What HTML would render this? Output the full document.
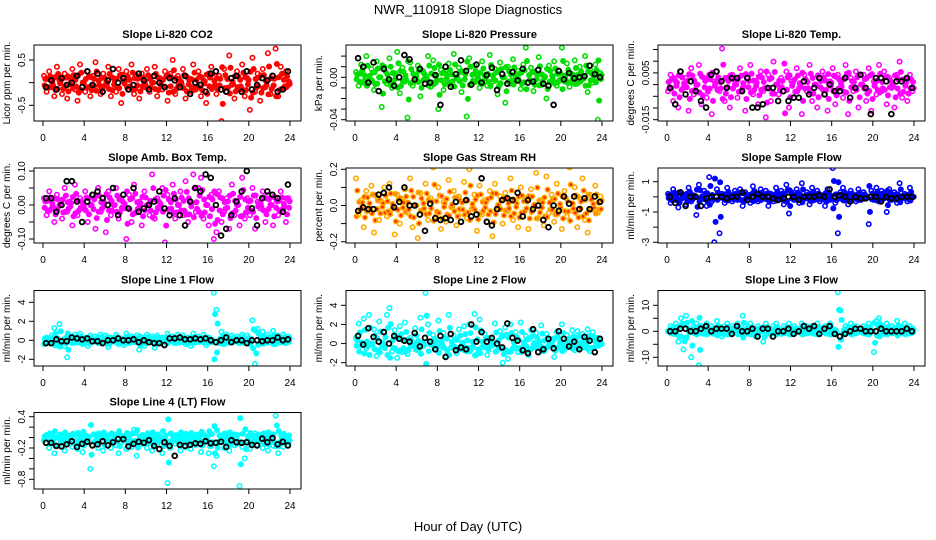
<!DOCTYPE html>
<html><head><meta charset="utf-8"><style>
html,body{margin:0;padding:0;background:#fff;}
svg{display:block;font-family:"Liberation Sans",sans-serif;}
</style></head><body>
<svg id="c" width="936" height="540" xmlns="http://www.w3.org/2000/svg">
<text x="468" y="14" text-anchor="middle" font-size="13">NWR_110918  Slope Diagnostics</text>
<text x="468" y="531" text-anchor="middle" font-size="13">Hour of Day (UTC)</text>
</svg>
<script>
const xTicks=[0,4,8,12,16,20,24];
const co2=[15,-20,25,-10,-30,35,5,-25,20,-35,10,30,-15,-40,40,0,-20,25,-30,15,45,-10,-25,20,-5,35,-30,10,-20,30,-45,5,25,-15,40,-25,15,-35,20,-10,30,-20,0,35,-30,10,-15,25,-40,20,50,-25,15,-5,30,-35,10,-20,40,-15,25,-30,5,-45,20,35,-10,-25,15,-85,30,-20,60,-5,-35,25,-15,40,-30,10,-60,55,-20,20,-40,30,-10,65,-25,15,75,-30,35,-15,25,-5];
const co2Blk=[-10,5,-15,10,-5,0,15,-10,25,-5,20,-20,5,30,0,10,-15,-5,20,5,-15,15,0,-10,10,5,-10,15,-25,0,-5,-20,20,25,-15,-20,10,15,-20,25,-15,-5,10,5,15,-20,-15,25];
const pres=[5,-8,12,-5,20,-3,8,-12,15,0,-28,10,-6,18,-10,4,24,-15,9,-4,-38,14,-8,2,11,-18,6,-2,20,-9,16,-5,-30,7,-12,3,13,-7,22,-1,9,-14,5,-37,18,-6,11,-3,-10,15,2,-8,21,-4,8,-16,14,0,-24,10,-6,17,-2,6,-11,12,28,-5,9,-13,4,19,-7,1,-20,11,-3,15,-8,6,28,-4,13,-9,3,16,-6,10,-2,20,-14,7,-5,12,-40,4];
const presBlk=[18,10,-5,14,-13,8,-2,-8,0,21,17,-2,8,-6,-5,2,-26,10,-9,3,16,6,-7,12,-5,2,9,-12,3,-6,5,-3,8,-5,-4,7,-6,-8,-26,6,-2,4,-1,0,1,11,3,0];
const temp=[-2,3,-5,1,-7,4,-1,2,-8,5,-3,0,6,-6,2,-4,3,-9,1,4,-2,11,-5,2,-7,3,0,-4,5,-1,-8,2,6,-3,1,-6,4,-2,-10,3,-5,7,0,-3,2,-16,4,-7,1,-4,5,-1,-9,3,-2,6,-5,0,-7,2,4,-3,-8,1,5,-6,3,-1,-4,6,-9,2,-2,4,-7,0,3,-5,5,-8,1,-3,6,-2,4,-6,2,-1,-7,3,7,-4,1,-5,3,-2];
const tempBlk=[-1,-6,4,-3,1,-2,-5,-7,3,4,1,-1,2,2,-2,2,-7,-7,-6,-1,-1,-5,-2,-5,-4,-4,1,-3,-1,2,-3,0,-2,-2,2,-4,-1,3,-1,-9,2,2,1,-9,1,1,2,-1];
const amb=[2,-3,4,-1,-5,3,0,-4,5,-2,1,-6,6,-3,2,-1,4,-5,0,3,-7,5,-2,1,-8,4,-3,0,5,-4,2,-1,-10,3,-5,6,-2,1,-6,4,0,-3,9,-4,2,-1,5,-11,3,-2,6,-4,0,4,-3,7,-5,1,9,-2,5,8,-4,0,-6,3,-10,-8,4,-5,-2,2,-7,6,-3,0,-6,8,-4,2,-3,5,-7,1,-1,4,-5,3,0,-6,2,-3,4,-1,-5,2];
const ambBlk=[2,2,-2,0,7,7,1,-5,1,3,4,2,0,5,-3,3,-1,5,-2,-1,0,1,4,-1,-3,2,-3,-6,1,5,4,9,8,0,-9,-7,-3,1,4,10,-1,-6,2,4,3,2,-2,6];
const rh=[15,-5,3,-12,8,-3,11,-15,5,-8,2,10,-6,12,-2,-16,6,-10,3,9,-4,15,-12,0,-18,7,-3,12,-8,4,21,-6,10,-13,2,-9,14,-1,8,-11,5,-4,13,-7,20,-2,6,-14,11,-5,3,-9,8,-17,12,-1,5,-10,7,-3,15,-8,2,-12,10,-6,4,-13,9,-1,18,-7,3,-11,16,-4,6,-9,12,-2,-13,8,-6,21,-3,10,-12,4,15,-8,-15,6,-2,11,-4,5];
const rhBlk=[-3,-1,-2,-2,6,7,10,-1,2,10,0,0,-5,-14,1,-7,-8,-7,-8,2,-9,3,-6,-5,15,-9,-11,-2,3,4,3,7,-6,3,-2,0,-8,-12,0,-3,5,1,5,-2,4,-2,5,2];
const samp=[2,-4,5,-2,-7,3,0,-5,6,-3,1,-12,8,-1,4,-6,13,-3,-30,5,-24,2,-4,6,-1,-3,4,-2,5,-6,3,0,-4,7,-2,-3,5,-1,4,-6,2,-3,6,-1,4,-5,8,-11,3,-2,5,-4,9,-1,3,-5,6,-2,4,-3,1,-6,5,-2,19,-4,-24,3,6,-2,-5,4,-1,-3,5,-2,3,-1,-18,4,-2,6,-3,4,-1,-10,5,-2,3,-4,9,-1,2,-3,6,0];
const sampBlk=[0,-4,3,-6,0,0,-6,-1,0,0,0,-1,0,0,3,-2,0,2,0,0,-1,-2,-1,0,0,-2,0,0,0,1,0,5,0,1,0,-3,0,-1,-1,0,0,-3,0,-1,-1,0,0,0];
const l1=[-4,3,-2,5,13,-5,17,0,-6,-18,4,-3,6,-2,7,-4,3,-6,5,-1,4,-3,6,-2,5,-7,3,-1,6,-4,2,-5,7,-3,4,-2,5,-10,3,-6,6,-1,4,-8,5,-2,3,-5,7,-1,4,-3,6,-2,5,-4,3,-6,7,-2,4,-1,6,-5,3,-2,50,32,-3,9,-4,6,-2,5,-1,4,-3,6,-2,5,-4,21,-25,12,-3,9,-2,6,-1,10,-4,5,-2,6,-3,4];
const l1Blk=[-3,-3,1,-1,-1,3,2,1,2,-1,-1,-3,0,0,2,0,0,1,-2,0,-2,-3,-3,-5,2,2,3,1,1,2,1,2,0,-2,0,3,-2,0,0,-3,0,0,-1,0,0,3,0,1];
const l2=[6,21,-2,26,-5,30,-1,15,-13,23,-3,12,30,37,-8,14,-15,18,-9,22,-11,6,-2,16,-7,27,-3,53,20,-1,9,-6,24,-3,11,-13,30,-4,8,-10,15,-2,18,-8,20,-5,31,-11,25,-4,10,-12,6,-2,21,-7,13,-20,17,-16,20,-5,12,-9,22,-3,8,-12,14,-1,11,-4,19,-8,10,-2,5,-14,12,-3,20,-6,9,-1,14,-7,13,-2,10,-4,15,-8,12,-3,6,-1];
const l2Blk=[8,-1,16,7,2,12,0,8,5,3,2,11,-3,6,2,-6,8,-14,10,-7,-4,-6,20,2,12,2,6,0,-4,21,6,3,-7,-10,15,-9,-6,5,-5,13,5,-3,2,-6,7,3,-9,5];
const l3=[0,2,-1,3,-4,5,-7,6,1,-10,2,3,-13,2,-1,3,0,2,-1,4,1,-2,2,3,-1,2,0,3,-1,6,2,-1,3,1,-2,2,0,-4,3,1,-1,2,3,0,-1,2,1,3,-1,2,0,1,3,-1,2,0,2,-1,3,1,0,2,-1,3,1,-1,15,8,-1,2,1,3,-1,2,0,1,2,-1,3,0,-8,4,5,2,-1,3,1,2,0,4,2,1,3,-1,2,1];
const l3Blk=[0,0,1,1,0,0,1,2,0,1,1,1,-1,2,0,0,1,-2,1,1,-2,0,0,1,-1,0,2,1,2,-1,1,2,-1,-2,-1,0,1,1,0,0,0,1,0,0,0,0,1,0];
const l4=[-5,5,-20,-10,-30,0,-15,-5,-25,-8,3,-18,-12,-22,-5,-28,-10,2,-60,-15,-8,-20,0,-25,-5,-12,-20,4,-15,-30,-8,-3,-22,-10,-18,15,-35,-5,-12,0,-20,-8,-25,-5,-15,-2,-30,-10,-87,-20,-5,-12,-3,-25,-10,-18,-6,-22,0,-14,-8,-28,-12,-4,-30,-16,-55,-35,-10,-2,-20,-8,-25,-5,-15,-12,-93,-18,-40,-6,-22,-10,8,-14,-4,-20,-12,-25,-2,-16,42,-30,-8,-18,-5,-10];
const l4Blk=[-10,-10,-16,-17,-13,-7,-18,-12,-8,-15,-13,-7,-15,-9,-3,-3,-17,-12,-8,-10,-5,-16,-22,-9,-16,-35,-14,-16,-14,-11,-12,-7,-11,-10,-8,-18,-5,-9,-10,-9,-14,-15,-2,-9,-1,-13,-8,-15];

const NS="http://www.w3.org/2000/svg";
const svg=document.getElementById('c');
function mk(tag,attrs,parent){const e=document.createElementNS(NS,tag);for(const k in attrs)e.setAttribute(k,attrs[k]);(parent||svg).appendChild(e);return e;}
const cols=[34,346,658], rows=[[45,121],[168,243],[290.5,366],[412.5,489]];
const panels=[
 {t:'Slope Li-820 CO2',yl:'Licor ppm per min.',c:0,r:0,d:co2,b:co2Blk,s:0.01,col:'#ff0000',ref:[0.5,60,-0.5,105.3],ticks:[-0.5,0,0.5],labs:['-0.5','','0.5']},
 {t:'Slope Li-820 Pressure',yl:'kPa per min.',c:1,r:0,d:pres,b:presBlk,s:0.001,col:'#00dd00',ref:[0,77.3,-0.04,119.7],ticks:[-0.04,-0.03,-0.02,-0.01,0,0.01,0.02],labs:['-0.04','','','','0.00','','']},
 {t:'Slope Li-820 Temp.',yl:'degrees C per min.',c:2,r:0,d:temp,b:tempBlk,s:0.0014,col:'#ff00ff',ref:[0.005,72.9,-0.015,119.7],ticks:[-0.015,-0.01,-0.005,0,0.005,0.01,0.015],labs:['-0.015','','','','0.005','','']},
 {t:'Slope Amb. Box Temp.',yl:'degrees C per min.',c:0,r:1,d:amb,b:ambBlk,s:0.01,col:'#ff00ff',ref:[0.1,171,-0.1,239],ticks:[-0.1,-0.05,0,0.05,0.1],labs:['-0.10','','0.00','','0.10']},
 {t:'Slope Gas Stream RH',yl:'percent per min.',c:1,r:1,d:rh,b:rhBlk,s:0.01,col:'#ffaa00',ref:[0.2,169.3,-0.2,241.7],ticks:[-0.2,-0.1,0,0.1,0.2],labs:['-0.2','','0.0','','0.2'],inner:'#ff2200'},
 {t:'Slope Sample Flow',yl:'ml/min per min.',c:2,r:1,d:samp,b:sampBlk,s:0.1,col:'#0000ff',ref:[1,181.7,-3,242.3],ticks:[-3,-2,-1,0,1],labs:['-3','','-1','','1']},
 {t:'Slope Line 1 Flow',yl:'ml/min per min.',c:0,r:2,d:l1,b:l1Blk,s:0.1,col:'#00ffff',ref:[4,302.3,-2,359.3],ticks:[-2,0,2,4],labs:['-2','0','2','4']},
 {t:'Slope Line 2 Flow',yl:'ml/min per min.',c:1,r:2,d:l2,b:l2Blk,s:0.1,col:'#00ffff',ref:[4,305.3,-2,362.7],ticks:[-2,0,2,4],labs:['-2','0','2','4']},
 {t:'Slope Line 3 Flow',yl:'ml/min per min.',c:2,r:2,d:l3,b:l3Blk,s:1,col:'#00ffff',ref:[10,305.3,-10,357.3],ticks:[-10,-5,0,5,10],labs:['-10','','0','','10']},
 {t:'Slope Line 4 (LT) Flow',yl:'ml/min per min.',c:0,r:3,d:l4,b:l4Blk,s:0.01,col:'#00ffff',ref:[0.4,416.7,-0.8,479.3],ticks:[-0.8,-0.6,-0.4,-0.2,0,0.2,0.4],labs:['-0.8','','','-0.2','','','0.4']}
];
panels.forEach((p,pi)=>{
  const x0=cols[p.c], x1=x0+267, y0=rows[p.r][0], y1=rows[p.r][1];
  const g=mk('g',{});
  
  
  const xs=h=>x0+9+h*(247/24);
  const ys=v=>p.ref[1]+(v-p.ref[0])*(p.ref[3]-p.ref[1])/(p.ref[2]-p.ref[0]);
  const cp='cp'+pi;
  const cl=mk('clipPath',{id:cp},g);mk('rect',{x:x0,y:y0,width:267,height:y1-y0},cl);
  const title=mk('text',{x:(x0+x1)/2,y:y0-7,'text-anchor':'middle','font-size':11,'font-weight':'bold'},g);title.textContent=p.t;
  
  
  const pts=mk('g',{'clip-path':'url(#'+cp+')',fill:'none'},g);
  
  
  const fillc=p.inner||p.col;
  p.d.forEach((v,i)=>{
    const h=i*0.25+0.1;
    const c=mk('circle',{cx:xs(h),cy:ys(v*p.s),r:2.2,stroke:p.col,'stroke-width':1.6},pts);
    
    
    const c2=mk('circle',{cx:xs(h+0.12),cy:ys(v*p.s*0.55),r:2.2,stroke:p.col,'stroke-width':1.6,fill:fillc},pts);
    
    
    const c3=mk('circle',{cx:xs(h+0.06),cy:ys(-v*p.s*0.4),r:2.2,stroke:p.col,'stroke-width':1.6,fill:fillc},pts);
    
    
  });
  p.b.forEach((v,i)=>{
    const c=mk('circle',{cx:xs(i*0.5+0.3),cy:ys(v*p.s),r:2.4,stroke:'#000','stroke-width':1.8},pts);
    
    
  });
  const box=mk('rect',{x:x0,y:y0,width:267,height:y1-y0,fill:'none',stroke:'#000','stroke-width':1},g);
  
  
  xTicks.forEach(t=>{
    mk('line',{x1:xs(t),x2:xs(t),y1:y1,y2:y1+5,stroke:'#000'},g);
    const tx=mk('text',{x:xs(t),y:y1+20,'text-anchor':'middle','font-size':10},g);tx.textContent=t;
    
    
  });
  p.ticks.forEach((t,i)=>{
    const y=ys(t);
    if(y<y0-0.5||y>y1+0.5) return;
    mk('line',{x1:x0-5,x2:x0,y1:y,y2:y,stroke:'#000'},g);
    if(p.labs[i]){
      const tx=mk('text',{x:0,y:0,'text-anchor':'middle','font-size':10,transform:'translate('+(x0-9)+','+y+') rotate(-90)'},g);
      tx.textContent=p.labs[i];
      
      
    }
  });
  const yt=mk('text',{x:0,y:0,'text-anchor':'middle','font-size':10,transform:'translate('+(x0-24)+','+((y0+y1)/2)+') rotate(-90)'},g);
  yt.textContent=p.yl;
  
  
});
</script>
</body></html>
